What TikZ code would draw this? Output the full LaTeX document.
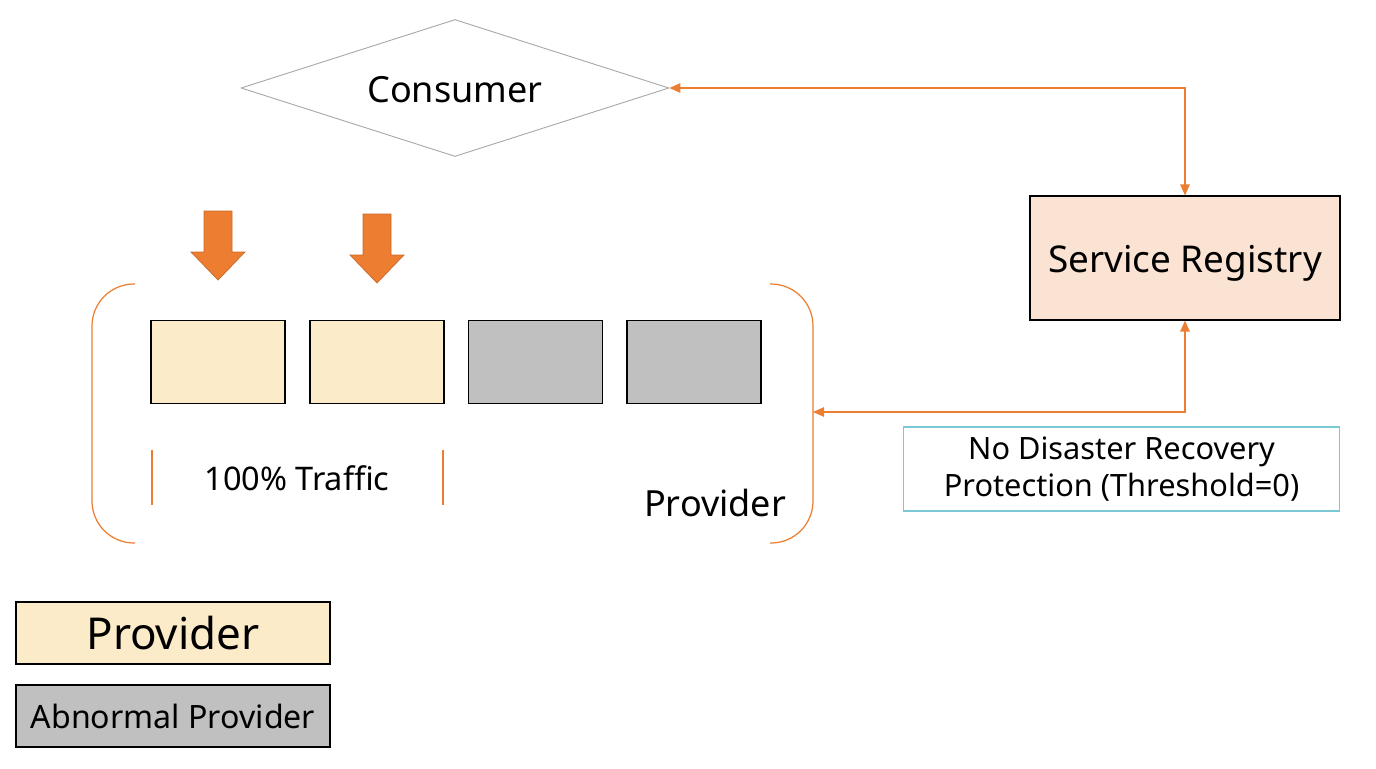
\documentclass[tikz,border=0pt]{standalone}
\usepackage{fontspec}
\setmainfont{Noto Sans}
\usetikzlibrary{arrows.meta,positioning,shapes.geometric}
\definecolor{acc}{HTML}{ED7D31}
\definecolor{provfill}{HTML}{FCEBC9}
\definecolor{abnfill}{HTML}{C0C0C0}
\definecolor{regfill}{HTML}{FBE3D3}
\definecolor{notecol}{HTML}{7CC7D6}
\tikzset{
  box/.style={draw, line width=0.7pt, align=center, inner sep=2pt},
  prov/.style={box, fill=provfill, minimum width=2.68cm, minimum height=1.66cm},
  abn/.style={box, fill=abnfill, minimum width=2.68cm, minimum height=1.66cm},
  legend/.style={box, minimum width=6.28cm, minimum height=1.24cm},
  link/.style={{Triangle[length=2.2mm,width=1.9mm]}-{Triangle[length=2.2mm,width=1.9mm]}, acc, line width=0.7pt},
  brk/.style={acc, line width=0.7pt},
  lbl/.style={font=\fontsize{18.5}{22}\selectfont},
  bigarr/.pic={\fill[acc, draw=acc!85!black, line width=0.4pt] (-14,0) -- (14,0) -- (14,41) -- (27,41) -- (0,69) -- (-27,41) -- (-14,41) -- cycle;}}

\begin{document}
\begin{tikzpicture}[x=0.02cm, y=-0.02cm]
  \useasboundingbox (0,0) rectangle (1376,768);
  % consumer and registry
  \node[draw=gray!70, line width=0.5pt, fill=white, diamond, aspect=3.1, minimum width=8.56cm, minimum height=2.74cm, inner sep=0pt, text height=17pt, font=\fontsize{20.5}{24}\selectfont] (cons) at (455,88) {Consumer};
  \node[box, fill=regfill, minimum width=6.2cm, minimum height=2.48cm, text height=21pt, font=\fontsize{21}{25}\selectfont] (reg) at (1185,258) {Service Registry};
  \node[box, draw=notecol, line width=0.6pt, minimum width=8.74cm, minimum height=1.68cm, font=\fontsize{17.5}{21}\selectfont] (note) at (1121.5,469) {No Disaster Recovery\\Protection (Threshold=0)};
  % provider instances
  \foreach \i/\x/\s in {1/218/prov, 2/377/prov, 3/535.5/abn, 4/694/abn}
    \node[\s] (p\i) at (\x,362) {};
  \pic at (218,211) {bigarr};
  \pic at (377,214) {bigarr};
  % brackets round the providers
  \draw[brk, rounded corners=0.84cm] (135,284) -| (92,413) |- (135,543);
  \draw[brk, rounded corners=0.84cm] (770,284) -| (813,413) |- (770,543);
  \coordinate (pin) at (813,412);
  \draw[brk] (152,450) -- (152,505);
  \draw[brk] (443,450) -- (443,505);
  \node[lbl] (traffic) at (297,478) {100\% Traffic};
  \node[font=\fontsize{20.5}{24}\selectfont] (plbl) at (715,503) {Provider};
  % registry links
  \draw[link] (cons.east) -| (reg.north);
  \draw[link] (pin) -| (reg.south);
  % legend
  \node[legend, fill=provfill, font=\fontsize{25}{30}\selectfont] (lgp) at (173,633) {Provider};
  \node[legend, fill=abnfill, font=\fontsize{18.3}{22}\selectfont] (lga) at (173,716) {Abnormal Provider};
\end{tikzpicture}
\end{document}
